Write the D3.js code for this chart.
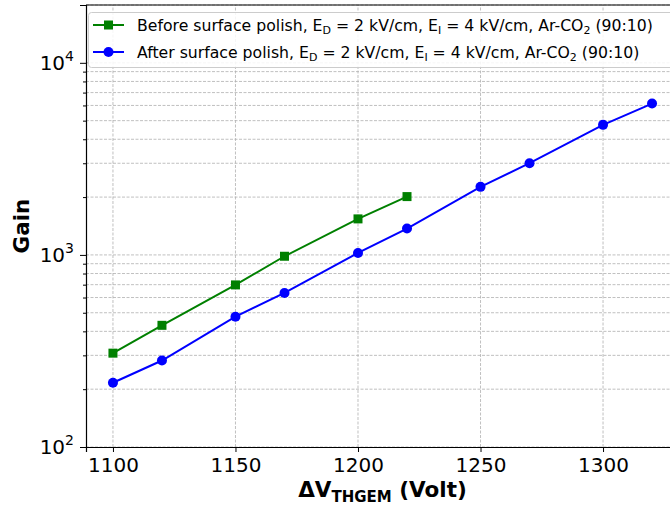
<!DOCTYPE html>
<html>
<head>
<meta charset="utf-8">
<script src="https://cdn.jsdelivr.net/npm/d3@7"></script>
<style>
  body { margin: 0; background: #fff; }
  svg { font-family: "DejaVu Sans", sans-serif; }
</style>
</head>
<body>
<div id="chart"></div>
<script>
'use strict';

// gain vs THGEM voltage
const voltBefore = [1100, 1120, 1150, 1170, 1200, 1220];
const gainBefore = [308, 430, 698, 984, 1540, 2012];
const voltAfter = [1100, 1120, 1150, 1170, 1200, 1220, 1250, 1270, 1300, 1320];
const gainAfter = [216, 282, 477, 634, 1024, 1371, 2261, 3002, 4753, 6138];
const xTicks = [1100, 1150, 1200, 1250, 1300];
const yMajor = [100, 1000, 10000];
const yExp = [2, 3, 4];

const width = 670, height = 505;
const margin = {left: 86, top: 5, right: -9, bottom: 58};

const svg = d3.select('#chart')
  .append('svg')
  .attr('width', width)
  .attr('height', height);

const x = d3.scaleLinear()
  .domain([1089, 1331])
  .range([margin.left, width - margin.right]);

const y = d3.scaleLog()
  .domain([100, 20000])
  .range([height - margin.bottom, margin.top]);

// minor values 200..900, 2000..9000, 20000
const yMinor = [];
[100, 1000, 10000].forEach(d => {
  for (let k = 2; k <= 9; k++) if (d * k <= 20000) yMinor.push(d * k);
});

const grid = svg.append('g').attr('class', 'grid')
  .attr('stroke', '#b0b0b0')
  .attr('stroke-width', 0.8)
  .attr('stroke-dasharray', '3,1.5');

grid.selectAll('.gy')
  .data(yMajor.concat(yMinor))
  .enter()
  .append('line')
  .attr('x1', x.range()[0])
  .attr('x2', x.range()[1])
  .attr('y1', d => y(d))
  .attr('y2', d => y(d));

grid.selectAll('.gx')
  .data(xTicks)
  .enter()
  .append('line')
  .attr('x1', d => x(d))
  .attr('x2', d => x(d))
  .attr('y1', y.range()[0])
  .attr('y2', y.range()[1]);

// axes
const xAxis = svg.append('g')
  .attr('transform', `translate(0,${y.range()[0]})`)
  .call(d3.axisBottom(x).tickValues(xTicks).tickSize(5).tickPadding(6).tickFormat(d3.format('d')));
xAxis.selectAll('text').attr('font-size', 20).attr('font-family', '"DejaVu Sans", sans-serif').attr('fill', '#000');

const yAxis = svg.append('g')
  .attr('transform', `translate(${x.range()[0]},0)`)
  .call(d3.axisLeft(y).tickValues(yMajor).tickSize(6).tickPadding(6).tickFormat(''));

svg.append('g')
  .attr('transform', `translate(${x.range()[0]},0)`)
  .call(d3.axisLeft(y).tickValues(yMinor).tickSize(3).tickFormat(''))
  .select('.domain').remove();

svg.selectAll('.domain').attr('stroke', '#000').attr('stroke-width', 1.2);
svg.selectAll('.tick line').attr('stroke', '#000');

// top spine
svg.append('line')
  .attr('x1', x.range()[0]).attr('x2', x.range()[1])
  .attr('y1', y.range()[1]).attr('y2', y.range()[1])
  .attr('stroke', '#000').attr('stroke-width', 1.2);

// y tick labels 10^n
const ylab = svg.selectAll('.ylab')
  .data(yMajor)
  .enter()
  .append('text')
  .attr('x', x.range()[0] - 12)
  .attr('y', d => y(d) + 7)
  .attr('text-anchor', 'end')
  .attr('font-size', 20);
ylab.append('tspan').text('10');
ylab.append('tspan')
  .attr('dy', -9)
  .attr('font-size', 14)
  .text((d, i) => yExp[i]);

// axis labels
svg.append('text')
  .attr('transform', `translate(29,${(y.range()[0] + y.range()[1]) / 2}) rotate(-90)`)
  .attr('text-anchor', 'middle')
  .attr('font-size', 21.5)
  .attr('font-weight', 'bold')
  .text('Gain');

const xl = svg.append('text')
  .attr('x', (x.range()[0] + x.range()[1]) / 2)
  .attr('y', 497)
  .attr('text-anchor', 'middle')
  .attr('font-size', 21.5)
  .attr('font-weight', 'bold');
xl.append('tspan').text('ΔV');
xl.append('tspan').attr('font-size', 15).attr('dy', 5).text('THGEM');
xl.append('tspan').attr('dy', -5).text(' (Volt)');

// lines and markers
const line = d3.line()
  .x(d => x(d[0]))
  .y(d => y(d[1]));

const before = voltBefore.map((v, i) => [v, gainBefore[i]]);
const after = voltAfter.map((v, i) => [v, gainAfter[i]]);

svg.append('path')
  .datum(before)
  .attr('d', line)
  .attr('fill', 'none')
  .attr('stroke', '#008000')
  .attr('stroke-width', 2);

svg.selectAll('.sq')
  .data(before)
  .enter()
  .append('rect')
  .attr('x', d => x(d[0]) - 4.5)
  .attr('y', d => y(d[1]) - 4.5)
  .attr('width', 9)
  .attr('height', 9)
  .attr('fill', '#008000');

svg.append('path')
  .datum(after)
  .attr('d', line)
  .attr('fill', 'none')
  .attr('stroke', '#0000ff')
  .attr('stroke-width', 2);

svg.selectAll('.ci')
  .data(after)
  .enter()
  .append('circle')
  .attr('cx', d => x(d[0]))
  .attr('cy', d => y(d[1]))
  .attr('r', 5)
  .attr('fill', '#0000ff');

// legend
const legend = svg.append('g');
legend.append('rect')
  .attr('x', 88.5).attr('y', 12.5)
  .attr('width', 600).attr('height', 55)
  .attr('rx', 3)
  .attr('fill', '#fff').attr('fill-opacity', 0.85)
  .attr('stroke', '#ccc');

const items = [
  {color: '#008000', shape: 'square', lead: 'Before surface polish, E'},
  {color: '#0000ff', shape: 'circle', lead: 'After surface polish, E'}
];

items.forEach((it, i) => {
  const cy = 25 + i * 27;
  legend.append('line')
    .attr('x1', 93).attr('x2', 124)
    .attr('y1', cy).attr('y2', cy)
    .attr('stroke', it.color).attr('stroke-width', 2);
  if (it.shape === 'square') {
    legend.append('rect')
      .attr('x', 104).attr('y', cy - 4.5)
      .attr('width', 9).attr('height', 9)
      .attr('fill', it.color);
  } else {
    legend.append('circle')
      .attr('cx', 108.5).attr('cy', cy).attr('r', 5)
      .attr('fill', it.color);
  }
  const t = legend.append('text')
    .attr('x', 137).attr('y', cy + 5.5)
    .attr('font-size', 15.7);
  t.append('tspan').text(it.lead);
  t.append('tspan').attr('font-size', 11).attr('dy', 3).text('D');
  t.append('tspan').attr('dy', -3).text(' = 2 kV/cm, E');
  t.append('tspan').attr('font-size', 11).attr('dy', 3).text('I');
  t.append('tspan').attr('dy', -3).text(' = 4 kV/cm, Ar-CO');
  t.append('tspan').attr('font-size', 11).attr('dy', 3).text('2');
  t.append('tspan').attr('dy', -3).text(' (90:10)');
});
</script>
</body>
</html>
